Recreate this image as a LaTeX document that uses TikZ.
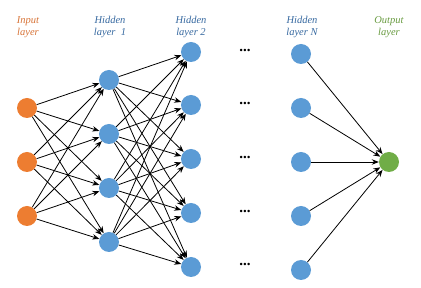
\documentclass[tikz,border=0pt]{standalone}
\usepackage{fontspec}
\setmainfont{Liberation Serif}
\usepackage{tikz}
\usetikzlibrary{arrows.meta}
\usepackage{xcolor}
\definecolor{incol}{RGB}{237,125,49}
\definecolor{hidcol}{RGB}{91,155,213}
\definecolor{outcol}{RGB}{112,173,71}
\definecolor{inlab}{RGB}{215,115,55}
\definecolor{hidlab}{RGB}{55,105,160}
\definecolor{outlab}{RGB}{105,155,65}
\tikzset{
  % neuron
  neuron/.style={circle, fill=#1, minimum size=20pt, inner sep=0pt},
  neuron/.default={hidcol},
  % weighted connection
  conn/.style={-{Stealth[length=7pt,width=5.5pt]}, line width=0.8pt},
  % layer caption
  laylabel/.style={font=\fontsize{10.5}{12}\selectfont\itshape, align=center, text=#1},
  laylabel/.default={hidlab},
  % skipped layers
  gapdots/.style={font=\fontsize{15}{15}\selectfont\bfseries},
}
\begin{document}
\begin{tikzpicture}[x=1pt,y=-1pt]
  \useasboundingbox (0,0) rectangle (421,288);

  % captions
  \node[laylabel=inlab] (Lin) at (28,27) {Input\\layer};
  \node[laylabel] (LA) at (110,27) {Hidden\\layer~~1};
  \node[laylabel] (LB) at (191,27) {Hidden\\layer 2};
  \node[laylabel] (LN) at (302,27) {Hidden\\layer N};
  \node[laylabel=outlab] (Lout) at (389,27) {Output\\layer};

  % input layer
  \foreach \i/\y in {1/108,2/162,3/216}
    \node[neuron=incol] (I\i) at (27,\y) {};

  % hidden layer 1
  \foreach \i/\y in {1/80,2/134,3/188,4/242}
    \node[neuron] (A\i) at (109,\y) {};

  % hidden layer 2
  \foreach \i/\y in {1/52,2/105,3/159,4/213,5/267}
    \node[neuron] (B\i) at (191,\y) {};

  % dots
  \foreach \i/\y in {1/50,2/104,3/158,4/211,5/264}
    \node[gapdots] (D\i) at (245,\y) {...};

  % hidden layer N
  \foreach \i/\y in {1/54,2/108,3/162,4/216,5/270}
    \node[neuron] (N\i) at (301,\y) {};

  % output
  \node[neuron=outcol] (O) at (389,162) {};

  % connections
  \foreach \i in {1,2,3}
    \foreach \j in {1,...,4}
      \draw[conn] (I\i) -- (A\j);
  \foreach \i in {1,...,4}
    \foreach \j in {1,...,5}
      \draw[conn] (A\i) -- (B\j);
  \foreach \i in {1,...,5}
    \draw[conn] (N\i) -- (O);
\end{tikzpicture}
\end{document}
